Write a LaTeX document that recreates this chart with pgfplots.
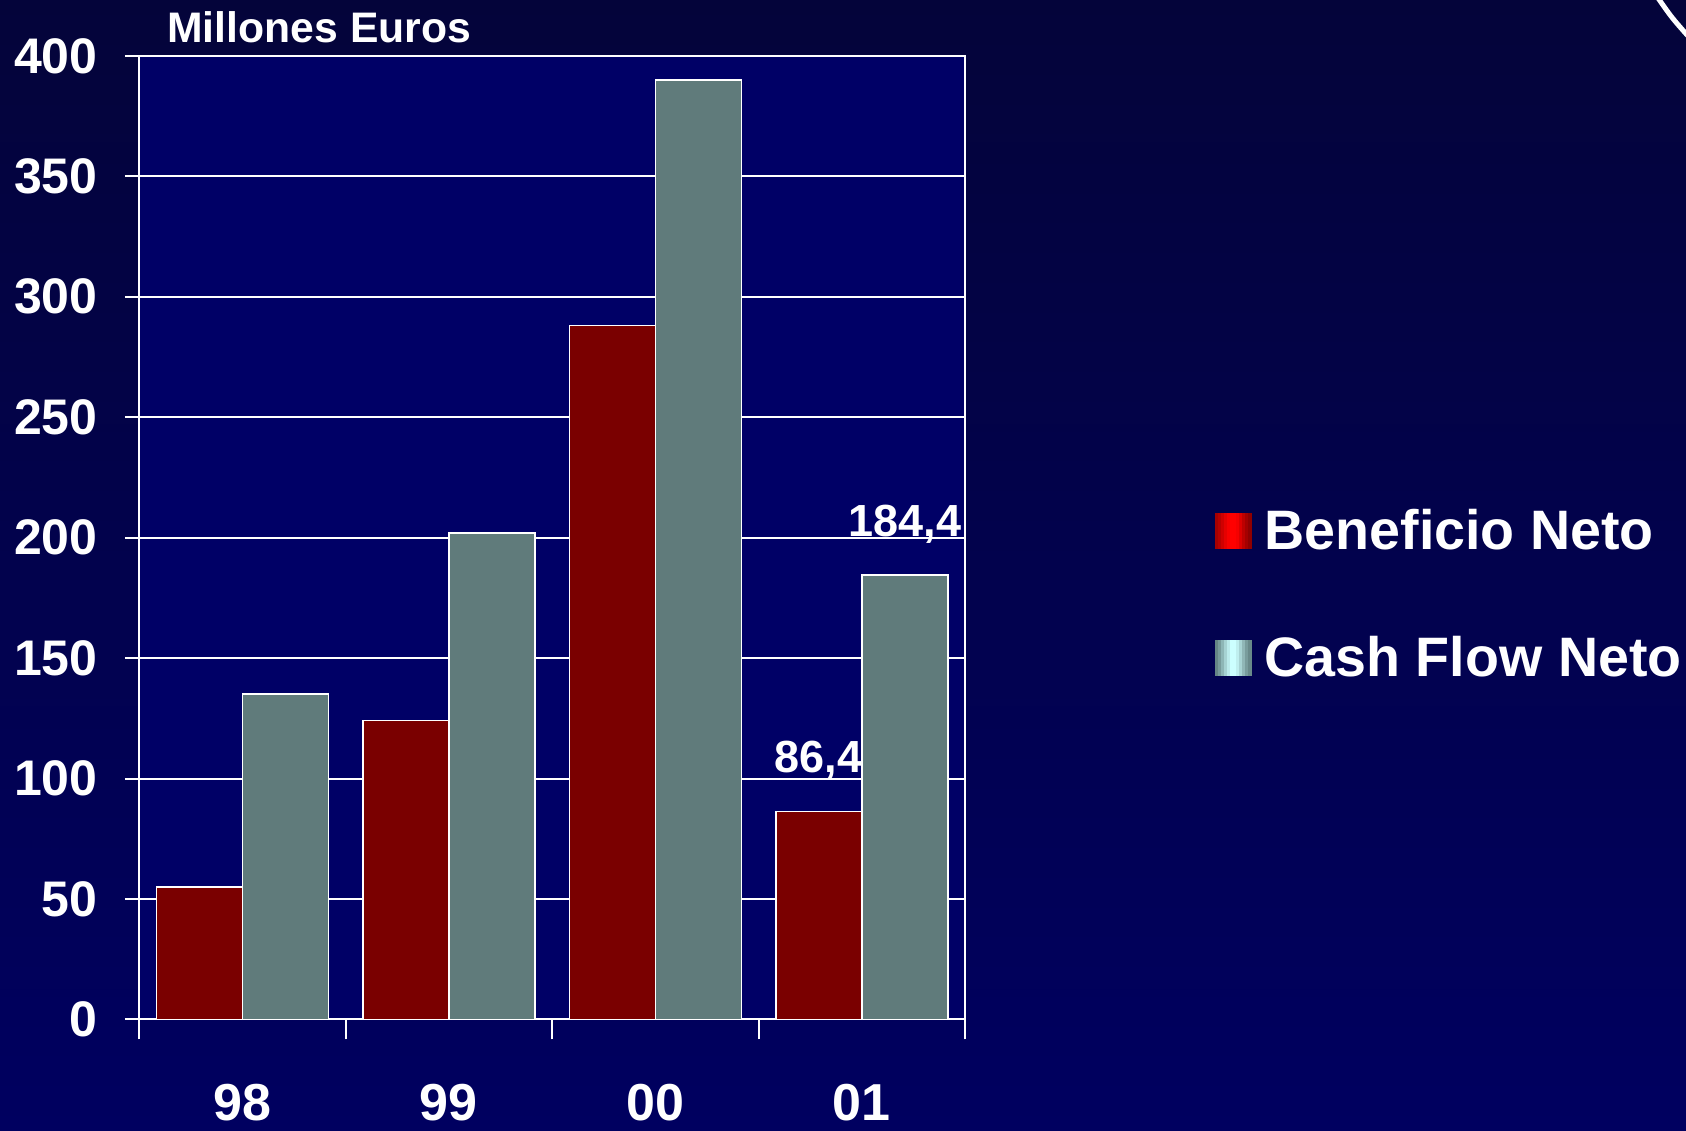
\documentclass[border=0pt]{standalone}
\usepackage{fontspec}
\setmainfont{Liberation Sans}
\usepackage{pgfplots}
\pgfplotsset{compat=1.18}

\definecolor{bgtop}{RGB}{4,4,58}
\definecolor{bgbot}{RGB}{0,0,96}
\definecolor{plotbg}{RGB}{0,0,102}
\definecolor{barred}{RGB}{122,0,0}
\definecolor{bargray}{RGB}{96,123,123}
\definecolor{legdark}{RGB}{128,0,0}
\definecolor{legred}{RGB}{255,0,0}
\definecolor{legteal}{RGB}{92,122,122}
\definecolor{legcyan}{RGB}{204,255,255}

\begin{document}
\begin{tikzpicture}
\shade[top color=bgtop, bottom color=bgbot] (0,0) rectangle (843pt,565pt);
\path[use as bounding box] (0,0) rectangle (843pt,565pt);
\begin{axis}[
    name=ax,
    at={(69.5pt,55.3pt)}, anchor=south west,
    scale only axis, width=413pt, height=481.75pt,
    xmin=-0.5, xmax=3.5, ymin=0, ymax=400,
    ybar=0pt, bar width=43pt,
    axis background/.style={fill=plotbg},
    axis line style={white, line width=1pt},
    xtick={-0.5,0.5,1.5,2.5,3.5},
    xticklabels={98,99,00,01,},
    ytick={0,50,...,400},
    /pgf/number format/assume math mode=true,
    tick pos=left, tick align=outside, major tick length=7pt,
    tick style={white, line width=1pt},
    xtick style={/pgfplots/major tick length=10pt},
    ymajorgrids, grid style={white, line width=1pt},
    xticklabel style={anchor=base, inner sep=0pt, xshift=51.625pt, yshift=-43.3pt,
        font=\fontsize{26}{26}\selectfont\bfseries, text=white},
    yticklabel style={anchor=east, inner sep=0pt, xshift=-13.5pt,
        font=\fontsize{25}{25}\selectfont\bfseries, text=white},
    nodes near coords, point meta=explicit symbolic,
    every node near coord/.append style={anchor=base, yshift=19.5pt, inner sep=0pt,
        font=\fontsize{22.5}{22.5}\selectfont\bfseries, text=white},
    legend style={at={(1.3027,0.530)}, anchor=north west, draw=none, fill=none,
        inner sep=0pt, row sep=41.8pt, column sep=6.5pt,
        font=\fontsize{27.8}{27.8}\selectfont\bfseries, text=white,
        nodes={inner sep=0pt}, cells={anchor=base west}},
]
\addplot[fill=barred, draw=white, line width=0.75pt,
    legend image code/.code={%
        \foreach \k [count=\n from 0] in {30,45,62,80,94,100,100,92,72,48,28,12}
            {\fill[draw=none, fill=legred!\k!legdark] (\n*1.5pt,0pt) rectangle (\n*1.5pt+1.6pt,18pt);}}]
    coordinates {(0,55) [{}] (1,124) [{}] (2,288) [{}] (3,86.4) [{86,4}]};
\addplot[fill=bargray, draw=white, line width=0.75pt,
    legend image code/.code={%
        \foreach \k [count=\n from 0] in {8,25,45,66,85,100,100,88,68,46,26,12}
            {\fill[draw=none, fill=legcyan!\k!legteal] (\n*1.5pt,0pt) rectangle (\n*1.5pt+1.6pt,18pt);}}]
    coordinates {(0,135) [{}] (1,202) [{}] (2,390) [{}] (3,184.4) [{184,4}]};
\legend{Beneficio Neto, Cash Flow Neto}
\end{axis}
\node[anchor=base west, inner sep=0pt, text=white,
    font=\fontsize{21.35}{21.35}\selectfont\bfseries]
    at ([xshift=14pt,yshift=6.6pt]ax.north west) {Millones Euros};
\draw[white, line width=2.5pt] (829pt,566pt) .. controls (836pt,556pt) .. (844pt,547pt);
\end{tikzpicture}
\end{document}
